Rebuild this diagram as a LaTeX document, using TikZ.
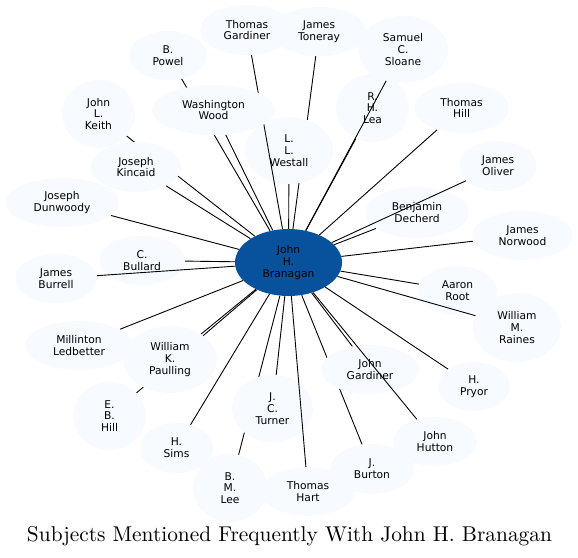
\documentclass[tikz,border=0pt]{standalone}
\usepackage{fontspec}
\newfontfamily\nodefont{DejaVu Sans}
\usetikzlibrary{shapes.geometric,backgrounds}
\definecolor{leaf}{HTML}{F7FBFF}
\definecolor{hub}{HTML}{08519C}
\begin{document}
\begin{tikzpicture}[x=1pt,y=-1pt,
  person/.style={ellipse, fill=leaf, inner sep=0pt, align=center,
    font=\nodefont\fontsize{10.7}{11.8}\selectfont},
  hubnode/.style={ellipse, fill=hub, inner sep=0pt, align=center, text=black,
    font=\nodefont\fontsize{10.7}{11.8}\selectfont},
  sz/.style 2 args={minimum width=#1pt, minimum height=#2pt},
  link/.style={draw=black, line width=0.9pt}]
\useasboundingbox (0,0) rectangle (578,557);

% hub
\node[hubnode, sz={107}{67}] (hub) at (288.5,262.5) {John\\H.\\Branagan};

% surrounding nodes
\node[person, sz={94}{50}] (tgard) at (247,30) {Thomas\\Gardiner};
\node[person, sz={94}{49}] (toner) at (319,31.5) {James\\Toneray};
\node[person, sz={90}{67}] (sloane) at (403,49.5) {Samuel\\C.\\Sloane};
\node[person, sz={78}{49}] (powel) at (168,55.5) {B.\\Powel};
\node[person, sz={73}{68}] (lea) at (372.5,108) {R.\\H.\\Lea};
\node[person, sz={95}{50}] (thill) at (461.5,108) {Thomas\\Hill};
\node[person, sz={73}{68}] (keith) at (98.5,114) {John\\L.\\Keith};
\node[person, sz={88}{67}] (westall) at (289,150.5) {L.\\L.\\Westall};
\node[person, sz={90}{50}] (kincaid) at (136,167) {Joseph\\Kincaid};
\node[person, sz={78}{50}] (oliver) at (498,166) {James\\Oliver};
\node[person, sz={114}{49}] (dunw) at (62,202.5) {Joseph\\Dunwoody};
\node[person, sz={104}{51}] (decherd) at (417,212.5) {Benjamin\\Decherd};
\node[person, sz={101}{49}] (norwood) at (522.5,235.5) {James\\Norwood};
\node[person, sz={86}{49}] (bullard) at (142,260.5) {C.\\Bullard};
\node[person, sz={82}{49}] (burrell) at (56,278.5) {James\\Burrell};
\node[person, sz={79}{49}] (root) at (457.5,290.5) {Aaron\\Root};
\node[person, sz={88}{69}] (raines) at (517,327.5) {William\\M.\\Raines};
\node[person, sz={108}{49}] (ledb) at (79,345.5) {Millinton\\Ledbetter};
\node[person, sz={94}{67}] (paull) at (170,359.5) {William\\K.\\Paulling};
\node[person, sz={98}{49}] (jgard) at (370,369.5) {John\\Gardiner};
\node[person, sz={72}{49}] (pryor) at (474,386.5) {H.\\Pryor};
\node[person, sz={73}{68}] (ebhill) at (109.5,416) {E.\\B.\\Hill};
\node[person, sz={81}{67}] (turner) at (272.5,408.5) {J.\\C.\\Turner};
\node[person, sz={73}{50}] (sims) at (176.5,448) {H.\\Sims};
\node[person, sz={84}{49}] (hutton) at (435,441.5) {John\\Hutton};
\node[person, sz={84}{50}] (burton) at (372,469) {J.\\Burton};
\node[person, sz={74}{68}] (lee) at (230,488) {B.\\M.\\Lee};
\node[person, sz={94}{49}] (hart) at (308,491.5) {Thomas\\Hart};

% the Thomas Gardiner connector runs over L. L. Westall but under Washington Wood
\draw[link] (hub) -- (tgard);
\node[person, sz={123}{50}] (wood) at (213.5,110) {Washington\\Wood};

% connectors drawn beneath the nodes
\begin{scope}[on background layer]
\foreach \t in {toner,powel,wood,lea,thill,keith,westall,kincaid,
  dunw,decherd,norwood,bullard,root,ledb,paull,jgard,pryor,
  ebhill,turner,sims,burton,lee}
  \draw[link] (hub) -- (\t);
\end{scope}

% connectors drawn over other nodes
\foreach \t in {burrell,sloane,hutton,hart,oliver,raines}
  \draw[link] (hub) -- (\t);

% title
\node[anchor=base, inner sep=0pt] (title) at (289.5,541.7)
  {\resizebox{525pt}{!}{\fontsize{10}{12}\selectfont Subjects Mentioned Frequently With John H. Branagan}};
\end{tikzpicture}
\end{document}
